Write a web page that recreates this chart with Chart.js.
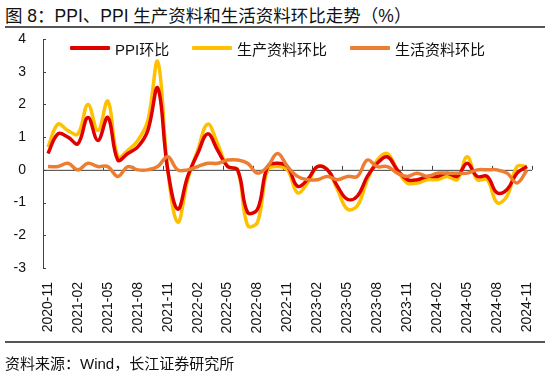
<!DOCTYPE html>
<html>
<head>
<meta charset="utf-8">
<script src="https://cdn.jsdelivr.net/npm/chart.js@4.4.1/dist/chart.umd.min.js"></script>
<style>
  body { margin: 0; background: #fff; }
  #wrap { position: relative; width: 550px; height: 372px; font-family: 'Liberation Sans', 'Noto Sans CJK SC', sans-serif; color: #111; }
  #c { position: absolute; left: 0; top: 0; }
  .title { position: absolute; left: 5px; top: 2px; font-size: 17.5px; white-space: nowrap; }
  .rule { position: absolute; left: 5px; width: 540px; height: 2px; background: #555; }
  .src { position: absolute; left: 5px; top: 352px; font-size: 15px; white-space: nowrap; }
  #legend { position: absolute; top: 39px; left: 0; }
  .item { position: absolute; display: flex; align-items: center; font-size: 15px; white-space: nowrap; height: 18px; }
  .swatch { display: inline-block; width: 40px; height: 3.5px; margin-right: 5px; border-radius: 1px; }
</style>
</head>
<body>
<div id="wrap">
  <div class="title">图 8：PPI、PPI 生产资料和生活资料环比走势（%）</div>
  <div class="rule" style="top:26px"></div>
  <canvas id="c" width="550" height="372"></canvas>
  <div id="legend"></div>
  <div class="rule" style="top:341px"></div>
  <div class="src">资料来源：Wind，长江证券研究所</div>
</div>
<script>
const months = [
  '2020-11', '2020-12',
  '2021-01', '2021-02', '2021-03', '2021-04', '2021-05', '2021-06', '2021-07', '2021-08', '2021-09', '2021-10', '2021-11', '2021-12',
  '2022-01', '2022-02', '2022-03', '2022-04', '2022-05', '2022-06', '2022-07', '2022-08', '2022-09', '2022-10', '2022-11', '2022-12',
  '2023-01', '2023-02', '2023-03', '2023-04', '2023-05', '2023-06', '2023-07', '2023-08', '2023-09', '2023-10', '2023-11', '2023-12',
  '2024-01', '2024-02', '2024-03', '2024-04', '2024-05', '2024-06', '2024-07', '2024-08', '2024-09', '2024-10', '2024-11'
];

// PPI环比
const ppiMoM = [0.5, 1.1, 1.0, 0.8, 1.6, 0.9, 1.6, 0.3, 0.5, 0.7, 1.2, 2.5, 0.0, -1.2, -0.2, 0.5, 1.1, 0.6, 0.1, 0.0,
  -1.3, -1.2, 0.1, 0.2, 0.1, -0.5, -0.3, 0.1, 0.0, -0.5, -0.9, -0.8, -0.2, 0.2, 0.4, 0.0, -0.3, -0.3, -0.2, -0.2,
  -0.1, -0.2, 0.2, -0.2, -0.2, -0.7, -0.6, -0.1, 0.1];
// 生产资料环比
const producerMoM = [0.7, 1.4, 1.2, 1.1, 2.0, 1.2, 2.1, 0.4, 0.6, 0.9, 1.5, 3.3, 0.0, -1.6, -0.3, 0.6, 1.4, 0.8, 0.1, 0.0,
  -1.7, -1.6, 0.0, 0.1, 0.0, -0.7, -0.4, 0.1, 0.0, -0.6, -1.2, -1.1, -0.3, 0.3, 0.5, 0.0, -0.4, -0.4, -0.3, -0.3,
  -0.2, -0.3, 0.4, -0.3, -0.3, -1.0, -0.8, 0.1, 0.1];
// 生活资料环比
const consumerMoM = [0.1, 0.1, 0.2, 0.0, 0.2, 0.1, 0.1, -0.2, 0.1, 0.0, 0.0, 0.1, 0.4, 0.0, 0.0, 0.1, 0.2, 0.2, 0.3, 0.3,
  0.2, -0.1, 0.1, 0.5, 0.1, -0.2, -0.3, -0.3, -0.2, -0.3, -0.2, -0.2, 0.3, 0.1, 0.1, -0.1, -0.2, -0.1, -0.2, -0.1,
  -0.1, -0.1, -0.1, 0.0, 0.0, 0.0, -0.1, -0.4, 0.0];

const yTicks = [-3, -2, -1, 0, 1, 2, 3, 4];
const labelEvery = 3;

const FONT = "'Liberation Sans', 'Noto Sans CJK SC', sans-serif";
const AXIS = '#404040';
const LINE_W = 3.5;

// zero line with small tick marks, plus inward ticks on the y axis
const axisMarks = {
  id: 'axisMarks',
  beforeDatasetsDraw(chart) {
    const { ctx, chartArea, scales: { x, y } } = chart;
    const y0 = y.getPixelForValue(0);
    const half = (x.getPixelForValue(1) - x.getPixelForValue(0)) / 2;
    ctx.save();
    ctx.strokeStyle = AXIS;
    ctx.lineWidth = 1;
    ctx.beginPath();
    ctx.moveTo(chartArea.left, y0 + 0.5);
    ctx.lineTo(chartArea.right, y0 + 0.5);
    for (let i = labelEvery; i < months.length; i += labelEvery) {
      const px = Math.round(x.getPixelForValue(i) - half) + 0.5;
      ctx.moveTo(px, y0);
      ctx.lineTo(px, y0 - 4);
    }
    const right = Math.round(x.getPixelForValue(months.length - 1) + half) + 0.5;
    ctx.moveTo(right, y0);
    ctx.lineTo(right, y0 - 4);
    yTicks.forEach(v => {
      const py = Math.round(y.getPixelForValue(v)) + 0.5;
      ctx.moveTo(chartArea.left, py);
      ctx.lineTo(chartArea.left + 3, py);
    });
    ctx.stroke();
    ctx.restore();
  }
};

const chart = new Chart(document.getElementById('c').getContext('2d'), {
  type: 'line',
  data: {
    labels: months,
    datasets: [
      {
        label: 'PPI环比',
        data: ppiMoM,
        borderColor: '#e00000',
        borderWidth: LINE_W,
        tension: 0.4,
        pointRadius: 0,
        order: 1
      },
      {
        label: '生产资料环比',
        data: producerMoM,
        borderColor: '#ffc000',
        borderWidth: LINE_W,
        tension: 0.4,
        pointRadius: 0,
        order: 2
      },
      {
        label: '生活资料环比',
        data: consumerMoM,
        borderColor: '#ed7d31',
        borderWidth: LINE_W,
        tension: 0.4,
        pointRadius: 0,
        order: 0
      }
    ]
  },
  options: {
    responsive: false,
    animation: false,
    layout: { padding: { left: 0, top: 39, right: 17, bottom: 0 } },
    plugins: {
      legend: { display: false },
      tooltip: { enabled: false }
    },
    scales: {
      x: {
        offset: true,
        grid: { display: false },
        border: { display: false },
        ticks: {
          autoSkip: false,
          minRotation: 90,
          maxRotation: 90,
          padding: 6,
          color: '#111',
          font: { family: FONT, size: 14 },
          callback: (v, i) => (i % labelEvery === 0 ? months[i] : '')
        },
        afterFit: s => { s.height = 104; }
      },
      y: {
        min: -3,
        max: 4,
        afterBuildTicks: s => { s.ticks = yTicks.map(v => ({ value: v })); },
        grid: { display: false, drawTicks: false },
        border: { display: true, color: AXIS, width: 1 },
        ticks: {
          padding: 17,
          color: '#111',
          font: { family: FONT, size: 14 }
        },
        afterFit: s => { s.width = 43; }
      }
    }
  },
  plugins: [axisMarks]
});

// legend drawn inside the plot, in dataset order
const legendLeft = [70, 192, 350];
const legendEl = document.getElementById('legend');
chart.data.datasets.forEach((ds, i) => {
  const item = document.createElement('div');
  item.className = 'item';
  item.style.left = legendLeft[i] + 'px';
  const sw = document.createElement('span');
  sw.className = 'swatch';
  sw.style.background = ds.borderColor;
  item.appendChild(sw);
  item.appendChild(document.createTextNode(ds.label));
  legendEl.appendChild(item);
});
</script>
</body>
</html>
